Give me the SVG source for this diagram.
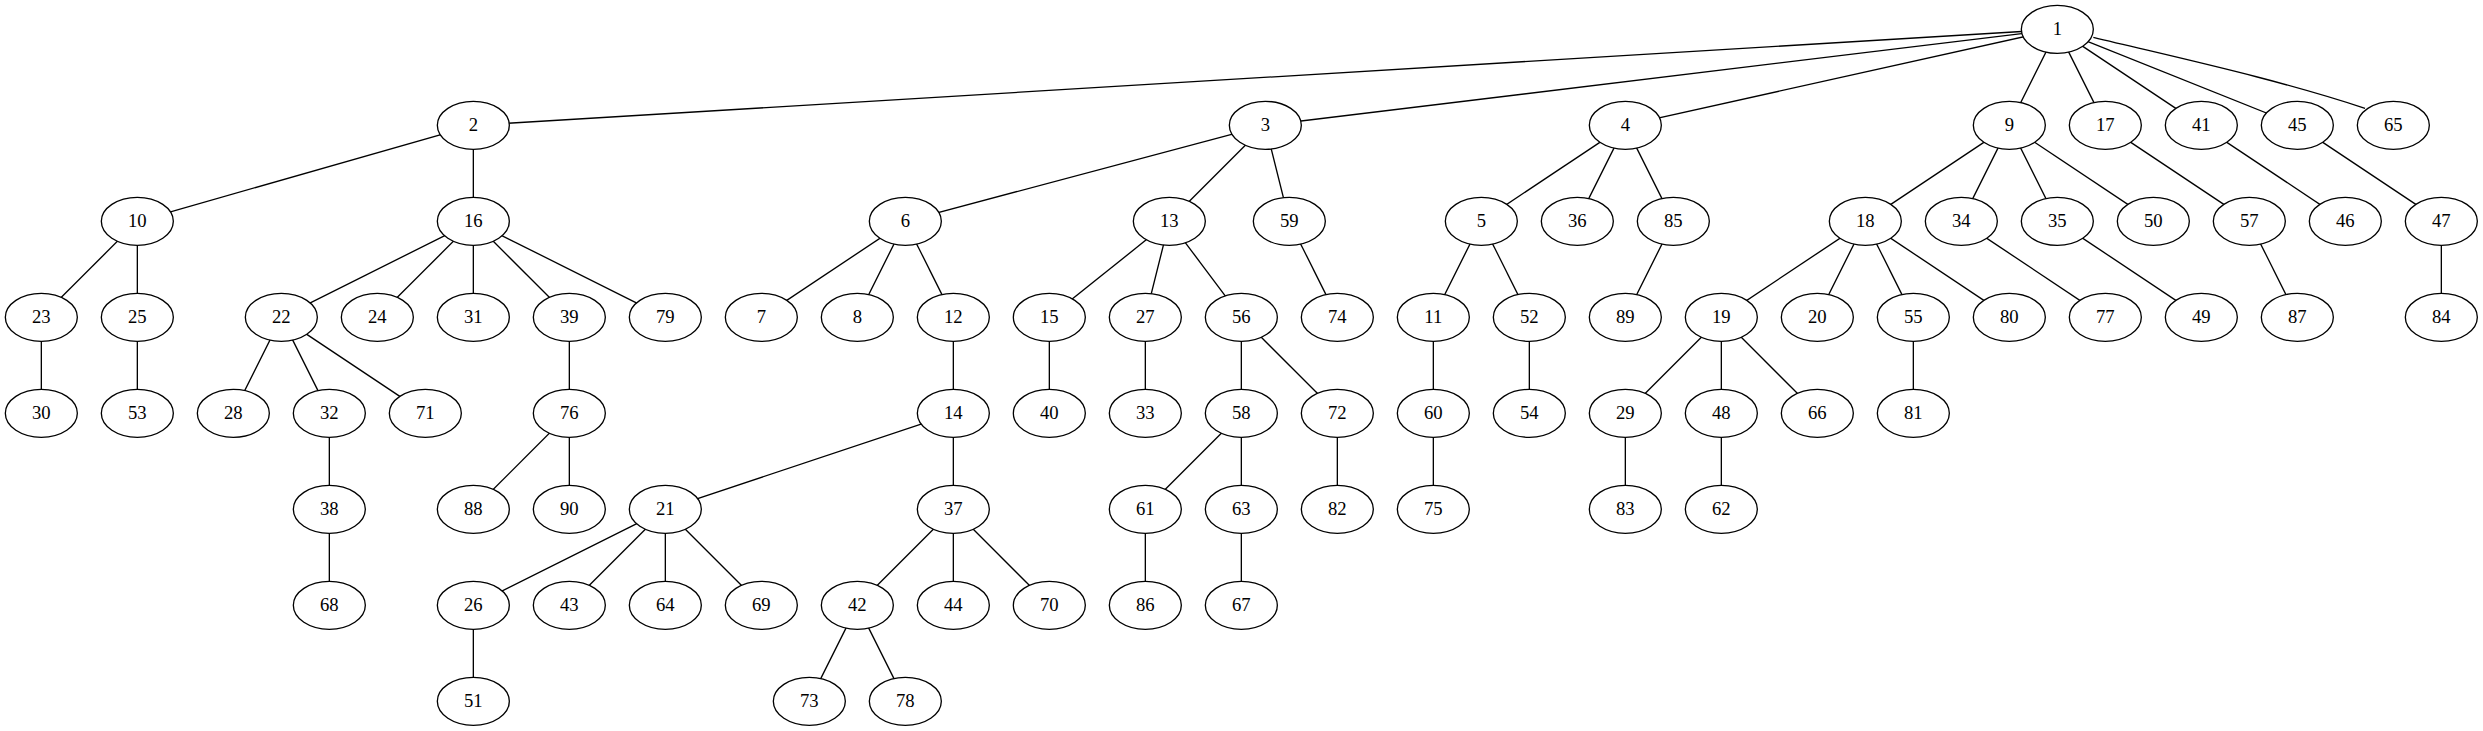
<svg xmlns="http://www.w3.org/2000/svg" width="2483" height="731" viewBox="0 0 2483 731">
<style>
.edges line, .edges path { stroke:#000; stroke-width:1.33; fill:none; }
.node ellipse { fill:#fff; stroke:#000; stroke-width:1.33; }
.node text { font-family:"Liberation Serif","Times New Roman",serif; font-size:18.67px; text-anchor:middle; fill:#000; }
</style>
<rect x="0" y="0" width="2483" height="731" fill="#fff"/>
<g transform="translate(41.333,29.333)">
<g id="edges" class="edges">
<line x1="2016" y1="0" x2="432" y2="96"/>
<line x1="2016" y1="0" x2="1224" y2="96"/>
<line x1="2016" y1="0" x2="1584" y2="96"/>
<line x1="2016" y1="0" x2="1968" y2="96"/>
<line x1="2016" y1="0" x2="2064" y2="96"/>
<line x1="2016" y1="0" x2="2160" y2="96"/>
<line x1="2016" y1="0" x2="2256" y2="96"/>
<path d="M2052,8 C2141.7,29.7 2233.7,49.3 2323.7,79"/>
<line x1="432" y1="96" x2="96" y2="192"/>
<line x1="432" y1="96" x2="432" y2="192"/>
<line x1="1224" y1="96" x2="864" y2="192"/>
<line x1="1224" y1="96" x2="1128" y2="192"/>
<line x1="1224" y1="96" x2="1248" y2="192"/>
<line x1="1584" y1="96" x2="1440" y2="192"/>
<line x1="1584" y1="96" x2="1536" y2="192"/>
<line x1="1584" y1="96" x2="1632" y2="192"/>
<line x1="1968" y1="96" x2="1824" y2="192"/>
<line x1="1968" y1="96" x2="1920" y2="192"/>
<line x1="1968" y1="96" x2="2016" y2="192"/>
<line x1="1968" y1="96" x2="2112" y2="192"/>
<line x1="2064" y1="96" x2="2208" y2="192"/>
<line x1="2160" y1="96" x2="2304" y2="192"/>
<line x1="2256" y1="96" x2="2400" y2="192"/>
<line x1="96" y1="192" x2="0" y2="288"/>
<line x1="96" y1="192" x2="96" y2="288"/>
<line x1="432" y1="192" x2="240" y2="288"/>
<line x1="432" y1="192" x2="336" y2="288"/>
<line x1="432" y1="192" x2="432" y2="288"/>
<line x1="432" y1="192" x2="528" y2="288"/>
<line x1="432" y1="192" x2="624" y2="288"/>
<line x1="864" y1="192" x2="720" y2="288"/>
<line x1="864" y1="192" x2="816" y2="288"/>
<line x1="864" y1="192" x2="912" y2="288"/>
<line x1="1128" y1="192" x2="1008" y2="288"/>
<line x1="1128" y1="192" x2="1104" y2="288"/>
<line x1="1128" y1="192" x2="1200" y2="288"/>
<line x1="1248" y1="192" x2="1296" y2="288"/>
<line x1="1440" y1="192" x2="1392" y2="288"/>
<line x1="1440" y1="192" x2="1488" y2="288"/>
<line x1="1632" y1="192" x2="1584" y2="288"/>
<line x1="1824" y1="192" x2="1680" y2="288"/>
<line x1="1824" y1="192" x2="1776" y2="288"/>
<line x1="1824" y1="192" x2="1872" y2="288"/>
<line x1="1824" y1="192" x2="1968" y2="288"/>
<line x1="1920" y1="192" x2="2064" y2="288"/>
<line x1="2016" y1="192" x2="2160" y2="288"/>
<line x1="2208" y1="192" x2="2256" y2="288"/>
<line x1="2400" y1="192" x2="2400" y2="288"/>
<line x1="0" y1="288" x2="0" y2="384"/>
<line x1="96" y1="288" x2="96" y2="384"/>
<line x1="240" y1="288" x2="192" y2="384"/>
<line x1="240" y1="288" x2="288" y2="384"/>
<line x1="240" y1="288" x2="384" y2="384"/>
<line x1="528" y1="288" x2="528" y2="384"/>
<line x1="912" y1="288" x2="912" y2="384"/>
<line x1="1008" y1="288" x2="1008" y2="384"/>
<line x1="1104" y1="288" x2="1104" y2="384"/>
<line x1="1200" y1="288" x2="1200" y2="384"/>
<line x1="1200" y1="288" x2="1296" y2="384"/>
<line x1="1392" y1="288" x2="1392" y2="384"/>
<line x1="1488" y1="288" x2="1488" y2="384"/>
<line x1="1680" y1="288" x2="1584" y2="384"/>
<line x1="1680" y1="288" x2="1680" y2="384"/>
<line x1="1680" y1="288" x2="1776" y2="384"/>
<line x1="1872" y1="288" x2="1872" y2="384"/>
<line x1="288" y1="384" x2="288" y2="480"/>
<line x1="528" y1="384" x2="432" y2="480"/>
<line x1="528" y1="384" x2="528" y2="480"/>
<line x1="912" y1="384" x2="624" y2="480"/>
<line x1="912" y1="384" x2="912" y2="480"/>
<line x1="1200" y1="384" x2="1104" y2="480"/>
<line x1="1200" y1="384" x2="1200" y2="480"/>
<line x1="1296" y1="384" x2="1296" y2="480"/>
<line x1="1392" y1="384" x2="1392" y2="480"/>
<line x1="1584" y1="384" x2="1584" y2="480"/>
<line x1="1680" y1="384" x2="1680" y2="480"/>
<line x1="288" y1="480" x2="288" y2="576"/>
<line x1="624" y1="480" x2="432" y2="576"/>
<line x1="624" y1="480" x2="528" y2="576"/>
<line x1="624" y1="480" x2="624" y2="576"/>
<line x1="624" y1="480" x2="720" y2="576"/>
<line x1="912" y1="480" x2="816" y2="576"/>
<line x1="912" y1="480" x2="912" y2="576"/>
<line x1="912" y1="480" x2="1008" y2="576"/>
<line x1="1104" y1="480" x2="1104" y2="576"/>
<line x1="1200" y1="480" x2="1200" y2="576"/>
<line x1="432" y1="576" x2="432" y2="672"/>
<line x1="816" y1="576" x2="768" y2="672"/>
<line x1="816" y1="576" x2="864" y2="672"/>
</g>
<g id="n1" class="node"><ellipse cx="2016" cy="0" rx="36" ry="24"/><text x="2016" y="5.6">1</text></g>
<g id="n2" class="node"><ellipse cx="432" cy="96" rx="36" ry="24"/><text x="432" y="101.6">2</text></g>
<g id="n3" class="node"><ellipse cx="1224" cy="96" rx="36" ry="24"/><text x="1224" y="101.6">3</text></g>
<g id="n4" class="node"><ellipse cx="1584" cy="96" rx="36" ry="24"/><text x="1584" y="101.6">4</text></g>
<g id="n9" class="node"><ellipse cx="1968" cy="96" rx="36" ry="24"/><text x="1968" y="101.6">9</text></g>
<g id="n17" class="node"><ellipse cx="2064" cy="96" rx="36" ry="24"/><text x="2064" y="101.6">17</text></g>
<g id="n41" class="node"><ellipse cx="2160" cy="96" rx="36" ry="24"/><text x="2160" y="101.6">41</text></g>
<g id="n45" class="node"><ellipse cx="2256" cy="96" rx="36" ry="24"/><text x="2256" y="101.6">45</text></g>
<g id="n65" class="node"><ellipse cx="2352" cy="96" rx="36" ry="24"/><text x="2352" y="101.6">65</text></g>
<g id="n10" class="node"><ellipse cx="96" cy="192" rx="36" ry="24"/><text x="96" y="197.6">10</text></g>
<g id="n16" class="node"><ellipse cx="432" cy="192" rx="36" ry="24"/><text x="432" y="197.6">16</text></g>
<g id="n6" class="node"><ellipse cx="864" cy="192" rx="36" ry="24"/><text x="864" y="197.6">6</text></g>
<g id="n13" class="node"><ellipse cx="1128" cy="192" rx="36" ry="24"/><text x="1128" y="197.6">13</text></g>
<g id="n59" class="node"><ellipse cx="1248" cy="192" rx="36" ry="24"/><text x="1248" y="197.6">59</text></g>
<g id="n5" class="node"><ellipse cx="1440" cy="192" rx="36" ry="24"/><text x="1440" y="197.6">5</text></g>
<g id="n36" class="node"><ellipse cx="1536" cy="192" rx="36" ry="24"/><text x="1536" y="197.6">36</text></g>
<g id="n85" class="node"><ellipse cx="1632" cy="192" rx="36" ry="24"/><text x="1632" y="197.6">85</text></g>
<g id="n18" class="node"><ellipse cx="1824" cy="192" rx="36" ry="24"/><text x="1824" y="197.6">18</text></g>
<g id="n34" class="node"><ellipse cx="1920" cy="192" rx="36" ry="24"/><text x="1920" y="197.6">34</text></g>
<g id="n35" class="node"><ellipse cx="2016" cy="192" rx="36" ry="24"/><text x="2016" y="197.6">35</text></g>
<g id="n50" class="node"><ellipse cx="2112" cy="192" rx="36" ry="24"/><text x="2112" y="197.6">50</text></g>
<g id="n57" class="node"><ellipse cx="2208" cy="192" rx="36" ry="24"/><text x="2208" y="197.6">57</text></g>
<g id="n46" class="node"><ellipse cx="2304" cy="192" rx="36" ry="24"/><text x="2304" y="197.6">46</text></g>
<g id="n47" class="node"><ellipse cx="2400" cy="192" rx="36" ry="24"/><text x="2400" y="197.6">47</text></g>
<g id="n23" class="node"><ellipse cx="0" cy="288" rx="36" ry="24"/><text x="0" y="293.6">23</text></g>
<g id="n25" class="node"><ellipse cx="96" cy="288" rx="36" ry="24"/><text x="96" y="293.6">25</text></g>
<g id="n22" class="node"><ellipse cx="240" cy="288" rx="36" ry="24"/><text x="240" y="293.6">22</text></g>
<g id="n24" class="node"><ellipse cx="336" cy="288" rx="36" ry="24"/><text x="336" y="293.6">24</text></g>
<g id="n31" class="node"><ellipse cx="432" cy="288" rx="36" ry="24"/><text x="432" y="293.6">31</text></g>
<g id="n39" class="node"><ellipse cx="528" cy="288" rx="36" ry="24"/><text x="528" y="293.6">39</text></g>
<g id="n79" class="node"><ellipse cx="624" cy="288" rx="36" ry="24"/><text x="624" y="293.6">79</text></g>
<g id="n7" class="node"><ellipse cx="720" cy="288" rx="36" ry="24"/><text x="720" y="293.6">7</text></g>
<g id="n8" class="node"><ellipse cx="816" cy="288" rx="36" ry="24"/><text x="816" y="293.6">8</text></g>
<g id="n12" class="node"><ellipse cx="912" cy="288" rx="36" ry="24"/><text x="912" y="293.6">12</text></g>
<g id="n15" class="node"><ellipse cx="1008" cy="288" rx="36" ry="24"/><text x="1008" y="293.6">15</text></g>
<g id="n27" class="node"><ellipse cx="1104" cy="288" rx="36" ry="24"/><text x="1104" y="293.6">27</text></g>
<g id="n56" class="node"><ellipse cx="1200" cy="288" rx="36" ry="24"/><text x="1200" y="293.6">56</text></g>
<g id="n74" class="node"><ellipse cx="1296" cy="288" rx="36" ry="24"/><text x="1296" y="293.6">74</text></g>
<g id="n11" class="node"><ellipse cx="1392" cy="288" rx="36" ry="24"/><text x="1392" y="293.6">11</text></g>
<g id="n52" class="node"><ellipse cx="1488" cy="288" rx="36" ry="24"/><text x="1488" y="293.6">52</text></g>
<g id="n89" class="node"><ellipse cx="1584" cy="288" rx="36" ry="24"/><text x="1584" y="293.6">89</text></g>
<g id="n19" class="node"><ellipse cx="1680" cy="288" rx="36" ry="24"/><text x="1680" y="293.6">19</text></g>
<g id="n20" class="node"><ellipse cx="1776" cy="288" rx="36" ry="24"/><text x="1776" y="293.6">20</text></g>
<g id="n55" class="node"><ellipse cx="1872" cy="288" rx="36" ry="24"/><text x="1872" y="293.6">55</text></g>
<g id="n80" class="node"><ellipse cx="1968" cy="288" rx="36" ry="24"/><text x="1968" y="293.6">80</text></g>
<g id="n77" class="node"><ellipse cx="2064" cy="288" rx="36" ry="24"/><text x="2064" y="293.6">77</text></g>
<g id="n49" class="node"><ellipse cx="2160" cy="288" rx="36" ry="24"/><text x="2160" y="293.6">49</text></g>
<g id="n87" class="node"><ellipse cx="2256" cy="288" rx="36" ry="24"/><text x="2256" y="293.6">87</text></g>
<g id="n84" class="node"><ellipse cx="2400" cy="288" rx="36" ry="24"/><text x="2400" y="293.6">84</text></g>
<g id="n30" class="node"><ellipse cx="0" cy="384" rx="36" ry="24"/><text x="0" y="389.6">30</text></g>
<g id="n53" class="node"><ellipse cx="96" cy="384" rx="36" ry="24"/><text x="96" y="389.6">53</text></g>
<g id="n28" class="node"><ellipse cx="192" cy="384" rx="36" ry="24"/><text x="192" y="389.6">28</text></g>
<g id="n32" class="node"><ellipse cx="288" cy="384" rx="36" ry="24"/><text x="288" y="389.6">32</text></g>
<g id="n71" class="node"><ellipse cx="384" cy="384" rx="36" ry="24"/><text x="384" y="389.6">71</text></g>
<g id="n76" class="node"><ellipse cx="528" cy="384" rx="36" ry="24"/><text x="528" y="389.6">76</text></g>
<g id="n14" class="node"><ellipse cx="912" cy="384" rx="36" ry="24"/><text x="912" y="389.6">14</text></g>
<g id="n40" class="node"><ellipse cx="1008" cy="384" rx="36" ry="24"/><text x="1008" y="389.6">40</text></g>
<g id="n33" class="node"><ellipse cx="1104" cy="384" rx="36" ry="24"/><text x="1104" y="389.6">33</text></g>
<g id="n58" class="node"><ellipse cx="1200" cy="384" rx="36" ry="24"/><text x="1200" y="389.6">58</text></g>
<g id="n72" class="node"><ellipse cx="1296" cy="384" rx="36" ry="24"/><text x="1296" y="389.6">72</text></g>
<g id="n60" class="node"><ellipse cx="1392" cy="384" rx="36" ry="24"/><text x="1392" y="389.6">60</text></g>
<g id="n54" class="node"><ellipse cx="1488" cy="384" rx="36" ry="24"/><text x="1488" y="389.6">54</text></g>
<g id="n29" class="node"><ellipse cx="1584" cy="384" rx="36" ry="24"/><text x="1584" y="389.6">29</text></g>
<g id="n48" class="node"><ellipse cx="1680" cy="384" rx="36" ry="24"/><text x="1680" y="389.6">48</text></g>
<g id="n66" class="node"><ellipse cx="1776" cy="384" rx="36" ry="24"/><text x="1776" y="389.6">66</text></g>
<g id="n81" class="node"><ellipse cx="1872" cy="384" rx="36" ry="24"/><text x="1872" y="389.6">81</text></g>
<g id="n38" class="node"><ellipse cx="288" cy="480" rx="36" ry="24"/><text x="288" y="485.6">38</text></g>
<g id="n88" class="node"><ellipse cx="432" cy="480" rx="36" ry="24"/><text x="432" y="485.6">88</text></g>
<g id="n90" class="node"><ellipse cx="528" cy="480" rx="36" ry="24"/><text x="528" y="485.6">90</text></g>
<g id="n21" class="node"><ellipse cx="624" cy="480" rx="36" ry="24"/><text x="624" y="485.6">21</text></g>
<g id="n37" class="node"><ellipse cx="912" cy="480" rx="36" ry="24"/><text x="912" y="485.6">37</text></g>
<g id="n61" class="node"><ellipse cx="1104" cy="480" rx="36" ry="24"/><text x="1104" y="485.6">61</text></g>
<g id="n63" class="node"><ellipse cx="1200" cy="480" rx="36" ry="24"/><text x="1200" y="485.6">63</text></g>
<g id="n82" class="node"><ellipse cx="1296" cy="480" rx="36" ry="24"/><text x="1296" y="485.6">82</text></g>
<g id="n75" class="node"><ellipse cx="1392" cy="480" rx="36" ry="24"/><text x="1392" y="485.6">75</text></g>
<g id="n83" class="node"><ellipse cx="1584" cy="480" rx="36" ry="24"/><text x="1584" y="485.6">83</text></g>
<g id="n62" class="node"><ellipse cx="1680" cy="480" rx="36" ry="24"/><text x="1680" y="485.6">62</text></g>
<g id="n68" class="node"><ellipse cx="288" cy="576" rx="36" ry="24"/><text x="288" y="581.6">68</text></g>
<g id="n26" class="node"><ellipse cx="432" cy="576" rx="36" ry="24"/><text x="432" y="581.6">26</text></g>
<g id="n43" class="node"><ellipse cx="528" cy="576" rx="36" ry="24"/><text x="528" y="581.6">43</text></g>
<g id="n64" class="node"><ellipse cx="624" cy="576" rx="36" ry="24"/><text x="624" y="581.6">64</text></g>
<g id="n69" class="node"><ellipse cx="720" cy="576" rx="36" ry="24"/><text x="720" y="581.6">69</text></g>
<g id="n42" class="node"><ellipse cx="816" cy="576" rx="36" ry="24"/><text x="816" y="581.6">42</text></g>
<g id="n44" class="node"><ellipse cx="912" cy="576" rx="36" ry="24"/><text x="912" y="581.6">44</text></g>
<g id="n70" class="node"><ellipse cx="1008" cy="576" rx="36" ry="24"/><text x="1008" y="581.6">70</text></g>
<g id="n86" class="node"><ellipse cx="1104" cy="576" rx="36" ry="24"/><text x="1104" y="581.6">86</text></g>
<g id="n67" class="node"><ellipse cx="1200" cy="576" rx="36" ry="24"/><text x="1200" y="581.6">67</text></g>
<g id="n51" class="node"><ellipse cx="432" cy="672" rx="36" ry="24"/><text x="432" y="677.6">51</text></g>
<g id="n73" class="node"><ellipse cx="768" cy="672" rx="36" ry="24"/><text x="768" y="677.6">73</text></g>
<g id="n78" class="node"><ellipse cx="864" cy="672" rx="36" ry="24"/><text x="864" y="677.6">78</text></g>
</g>
</svg>
